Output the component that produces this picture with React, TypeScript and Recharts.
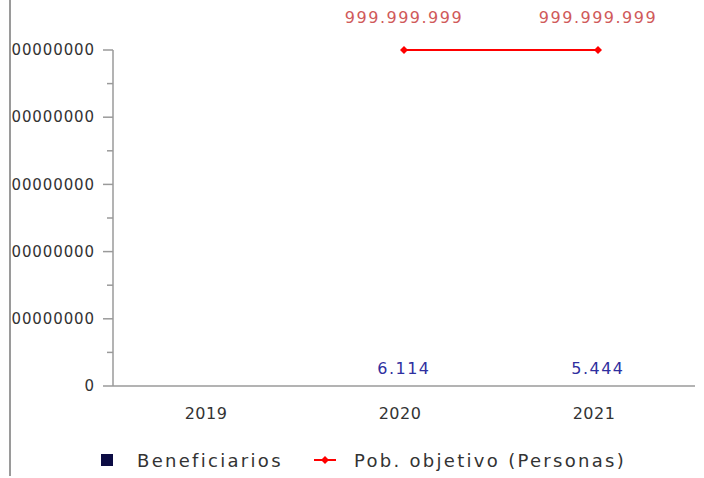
import React from "react";
import {
  Bar,
  ComposedChart,
  LabelList,
  Legend,
  Line,
  XAxis,
  YAxis,
} from "recharts";

const years = ["2019", "2020", "2021"];
const beneficiarios = [null, 6114, 5444];
const poblacionObjetivo = [null, 999999999, 999999999];
const yTicks = [
  0, 100000000, 200000000, 300000000, 400000000, 500000000, 600000000,
  700000000, 800000000, 900000000, 1000000000,
];

const data = years.map((year, i) => ({
  year,
  beneficiarios: beneficiarios[i],
  poblacion: poblacionObjetivo[i],
}));

const FONT = "'DejaVu Sans', sans-serif";
const AXIS = "#9a9a9a";

const dots = (v: any) =>
  v == null ? "" : String(v).replace(/\B(?=(\d{3})+(?!\d))/g, ".");

function YTick(props: any) {
  const { x, y, payload } = props;
  const major = payload.value % 200000000 === 0;
  const ax = x + 8;
  return (
    <g>
      <line x1={ax - (major ? 10 : 6)} x2={ax} y1={y} y2={y} stroke={AXIS} strokeWidth={1.5} />
      {major && (
        <text x={ax - 18} y={y} dy="0.35em" textAnchor="end" fill="#333" fontSize={15} fontFamily={FONT} letterSpacing={0.9}>
          {payload.value}
        </text>
      )}
    </g>
  );
}

function XTick(props: any) {
  const { x, y, payload } = props;
  return (
    <text x={x - 4} y={y} dy="0.71em" textAnchor="middle" fill="#333" fontSize={16} fontFamily={FONT} letterSpacing={0.5}>
      {payload.value}
    </text>
  );
}

function Diamond(props: any) {
  const { cx, cy, value } = props;
  if (value == null || cx == null) return null;
  return <polygon points={`${cx},${cy - 4} ${cx + 4},${cy} ${cx},${cy + 4} ${cx - 4},${cy}`} fill="#ff0000" />;
}

function LegendContent() {
  const text: React.CSSProperties = { fontFamily: FONT, fontSize: 18, letterSpacing: 2.3, color: "#333" };
  return (
    <div style={{ display: "flex", alignItems: "center", paddingLeft: 90, paddingTop: 18, height: 32 }}>
      <span style={{ width: 12, height: 12, background: "#0c0c44", display: "inline-block", marginRight: 24 }} />
      <span style={text}>Beneficiarios</span>
      <svg width={22} height={10} style={{ marginLeft: 31, marginRight: 18 }}>
        <line x1={0} x2={22} y1={5} y2={5} stroke="#ff0000" strokeWidth={2} />
        <polygon points="11,1 15,5 11,9 7,5" fill="#ff0000" />
      </svg>
      <span style={text}>Pob. objetivo (Personas)</span>
    </div>
  );
}

export default function App() {
  return (
    <div
      style={{
        position: "absolute",
        left: 9,
        top: 0,
        width: 693,
        height: 476,
        borderLeft: `2px solid ${AXIS}`,
        background: "#fff",
      }}
    >
      <ComposedChart
        width={690}
        height={476}
        data={data}
        margin={{ top: 50, right: 6, bottom: 0, left: 0 }}
      >
        <XAxis
          dataKey="year"
          stroke={AXIS}
          strokeWidth={1.5}
          tickLine={false}
          tick={<XTick />}
          height={40}
          tickMargin={16}
        />
        <YAxis
          type="number"
          domain={[0, 1000000000]}
          ticks={yTicks}
          width={102}
          stroke={AXIS}
          strokeWidth={1.5}
          tickLine={false}
          tick={<YTick />}
          interval={0}
        />
        <Legend
          verticalAlign="bottom"
          height={50}
          wrapperStyle={{ height: 50 }}
          content={<LegendContent />}
        />
        <Bar dataKey="beneficiarios" name="Beneficiarios" fill="#0c0c44" isAnimationActive={false}>
          <LabelList
            dataKey="beneficiarios"
            position="top"
            offset={12}
            formatter={dots}
            fill="#2f2fa0"
            fontSize={16}
            fontFamily={FONT}
            letterSpacing={1.5}
          />
        </Bar>
        <Line
          dataKey="poblacion"
          name="Pob. objetivo (Personas)"
          stroke="#ff0000"
          strokeWidth={2}
          dot={<Diamond />}
          activeDot={false}
          isAnimationActive={false}
        >
          <LabelList
            dataKey="poblacion"
            position="top"
            offset={27}
            formatter={dots}
            fill="#d05a5a"
            fontSize={16}
            fontFamily={FONT}
            letterSpacing={1.5}
          />
        </Line>
      </ComposedChart>
    </div>
  );
}
